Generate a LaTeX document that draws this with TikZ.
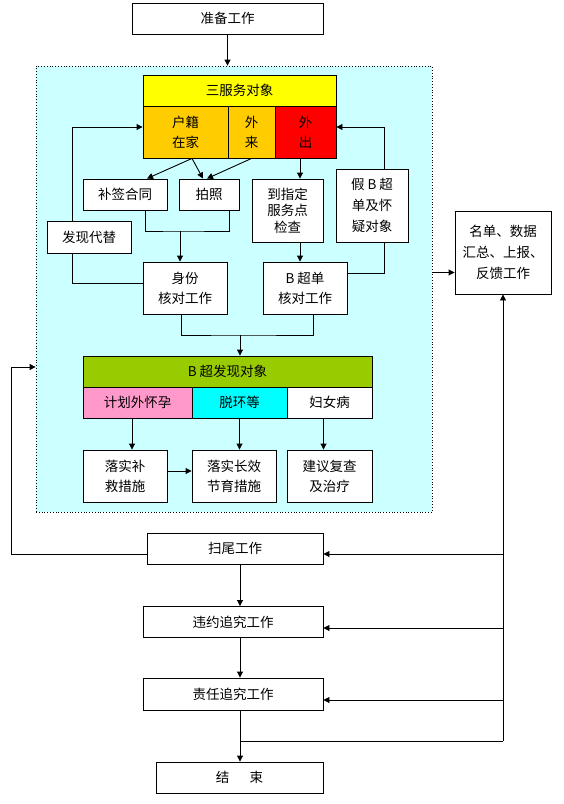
\documentclass[tikz,border=0pt]{standalone}
\usepackage{fontspec}
\setmainfont{Noto Sans CJK SC}
\usepackage{tikz}
\usetikzlibrary{arrows.meta,calc}

\definecolor{panelcyan}{HTML}{CCFFFF}
\definecolor{hdyellow}{HTML}{FFFF00}
\definecolor{hdorange}{HTML}{FFCC00}
\definecolor{hdgreen}{HTML}{99CC00}
\definecolor{hdpink}{HTML}{FF99CC}
\definecolor{hdcyan}{HTML}{00FFFF}

\begin{document}
\begin{tikzpicture}[
  x=1pt, y=-1pt,
  >={Triangle[length=6pt,width=6pt]},
  line width=0.9pt,
  every node/.style={font=\fontsize{13.5}{20}\selectfont, inner sep=0pt},
  box/.style={rectangle, draw=black, fill=white, line width=0.9pt, align=center},
  panel/.style={rectangle, draw=black, dotted, line width=0.8pt, fill=panelcyan, minimum width=396, minimum height=446}
]
  \useasboundingbox (0,0) rectangle (564,804);

  \node[box, minimum width=191, minimum height=31] (zbgz) at (227.5,18.5) {准备工作};
  \node[panel] (area) at (234,289) {};

  \node[box, fill=hdyellow, minimum width=193, minimum height=31] (fwdx) at (239.5,90.5) {三服务对象};
  \node[box, fill=hdorange, minimum width=85, minimum height=52] (hjzj) at (185.5,132) {户籍\\在家};
  \node[box, fill=hdorange, minimum width=47, minimum height=52] (wl) at (251.5,132) {外\\来};
  \node[box, fill=red, minimum width=61, minimum height=52] (wc) at (305.5,132) {外\\出};

  \node[box, minimum width=84, minimum height=31] (bqht) at (125,194.5) {补签合同};
  \node[box, minimum width=60, minimum height=31] (pz) at (209,194.5) {拍照};
  \node[box, minimum width=71, minimum height=63, font=\fontsize{13.5}{16.5}\selectfont] (dzd) at (287.5,210.5) {到指定\\服务点\\检查};
  \node[box, minimum width=72, minimum height=73, font=\fontsize{13.5}{21}\selectfont] (jbc) at (372,205.5) {假 B 超\\单及怀\\疑对象};
  \node[box, minimum width=84, minimum height=32] (fxdt) at (89,237) {发现代替};

  \node[box, minimum width=84, minimum height=52] (sfhd) at (185,288) {身份\\核对工作};
  \node[box, minimum width=84, minimum height=52] (bcd) at (305,288) {B 超单\\核对工作};

  \node[box, fill=hdgreen, minimum width=289, minimum height=31] (bcfx) at (227.5,371.5) {B 超发现对象};
  \node[box, fill=hdpink, minimum width=109, minimum height=31] (jhw) at (137.5,402.5) {计划外怀孕};
  \node[box, fill=hdcyan, minimum width=95, minimum height=31] (thd) at (239.5,402.5) {脱环等};
  \node[box, minimum width=85, minimum height=31] (fnb) at (329.5,402.5) {妇女病};

  \node[box, minimum width=84, minimum height=52] (lsbj) at (125,476) {落实补\\救措施};
  \node[box, minimum width=84, minimum height=52] (lscx) at (234,476) {落实长效\\节育措施};
  \node[box, minimum width=85, minimum height=52] (jyfc) at (329.5,476) {建议复查\\及治疗};

  \node[box, minimum width=96, minimum height=83, font=\fontsize{13.5}{21}\selectfont] (md) at (503,252.5) {名单、数据\\汇总、上报、\\反馈工作};

  \node[box, minimum width=176, minimum height=31] (swgz) at (235,548.5) {扫尾工作};
  \node[box, minimum width=180, minimum height=31] (wyzj) at (233,622) {违约追究工作};
  \node[box, minimum width=180, minimum height=32] (zrzj) at (233,694) {责任追究工作};
  \node[box, minimum width=167, minimum height=31] (js) at (239.5,777.5) {结\hspace{1.5em}束};

  \coordinate (m1) at (180,231);
  \coordinate (m2) at (240,335);
  \coordinate (rb) at (503,741);

  \draw[->] (zbgz.south) -- (zbgz.south |- area.north);

  \draw[->] ([xshift=6.5pt]hjzj.south) -- ([xshift=22pt]bqht.north);
  \draw[->] ([xshift=6.5pt]hjzj.south) -- ([xshift=-6pt]pz.north);
  \draw[->] (wl.south) -- ([xshift=-2pt]pz.north);
  \draw[->] ([xshift=-5.5pt]wc.south) -- ([xshift=-5.5pt]wc.south |- dzd.north);

  \draw ([xshift=20pt]bqht.south) |- (m1) -| ([xshift=20pt]pz.south);
  \draw[->] (m1) -- (m1 |- sfhd.north);
  \draw[->] ([xshift=12.5pt]dzd.south) -- ([xshift=12.5pt]dzd.south |- bcd.north);

  \draw ([yshift=5pt]sfhd.west) -| ([xshift=-17pt]fxdt.south);
  \draw[->] ([xshift=-17pt]fxdt.north) |- ([yshift=5pt]hjzj.west);
  \draw ([yshift=15pt]bcd.east) -| ([xshift=12pt]jbc.south);
  \draw[->] ([xshift=12pt]jbc.north) |- ([yshift=5pt]wc.east);

  \draw ([xshift=-4pt]sfhd.south) |- (m2) -| ([xshift=8pt]bcd.south);
  \draw[->] (m2) -- (m2 |- bcfx.north);

  \draw[->] ([xshift=-5.5pt]jhw.south) -- ([xshift=-5.5pt]jhw.south |- lsbj.north);
  \draw[->] (thd.south) -- (thd.south |- lscx.north);
  \draw[->] ([xshift=-6pt]fnb.south) -- ([xshift=-6pt]fnb.south |- jyfc.north);
  \draw[->] ([yshift=5pt]lsbj.east) -- ([yshift=5pt]lscx.west);

  \draw[->] ([yshift=-20pt]md.west -| area.east) -- ([yshift=-20pt]md.west);

  \draw[->] ([yshift=-5.5pt]swgz.west) -| ([xshift=-24pt,yshift=-78pt]area.west) -- ([yshift=-78pt]area.west);

  \draw[->] ([xshift=5pt]swgz.south) -- ([xshift=5pt]swgz.south |- wyzj.north);
  \draw[->] ([xshift=7pt]wyzj.south) -- ([xshift=7pt]wyzj.south |- zrzj.north);
  \draw[->] ([xshift=7pt]zrzj.south) -- ([xshift=7pt]zrzj.south |- js.north);

  \draw[->] (rb) -- (md.south);
  \draw (rb) -- (rb -| js.north);
  \draw[->] ([yshift=-5.5pt]swgz.east -| rb) -- ([yshift=-5.5pt]swgz.east);
  \draw[->] ([yshift=-6pt]wyzj.east -| rb) -- ([yshift=-6pt]wyzj.east);
  \draw[->] ([yshift=-6pt]zrzj.east -| rb) -- ([yshift=-6pt]zrzj.east);
\end{tikzpicture}
\end{document}
